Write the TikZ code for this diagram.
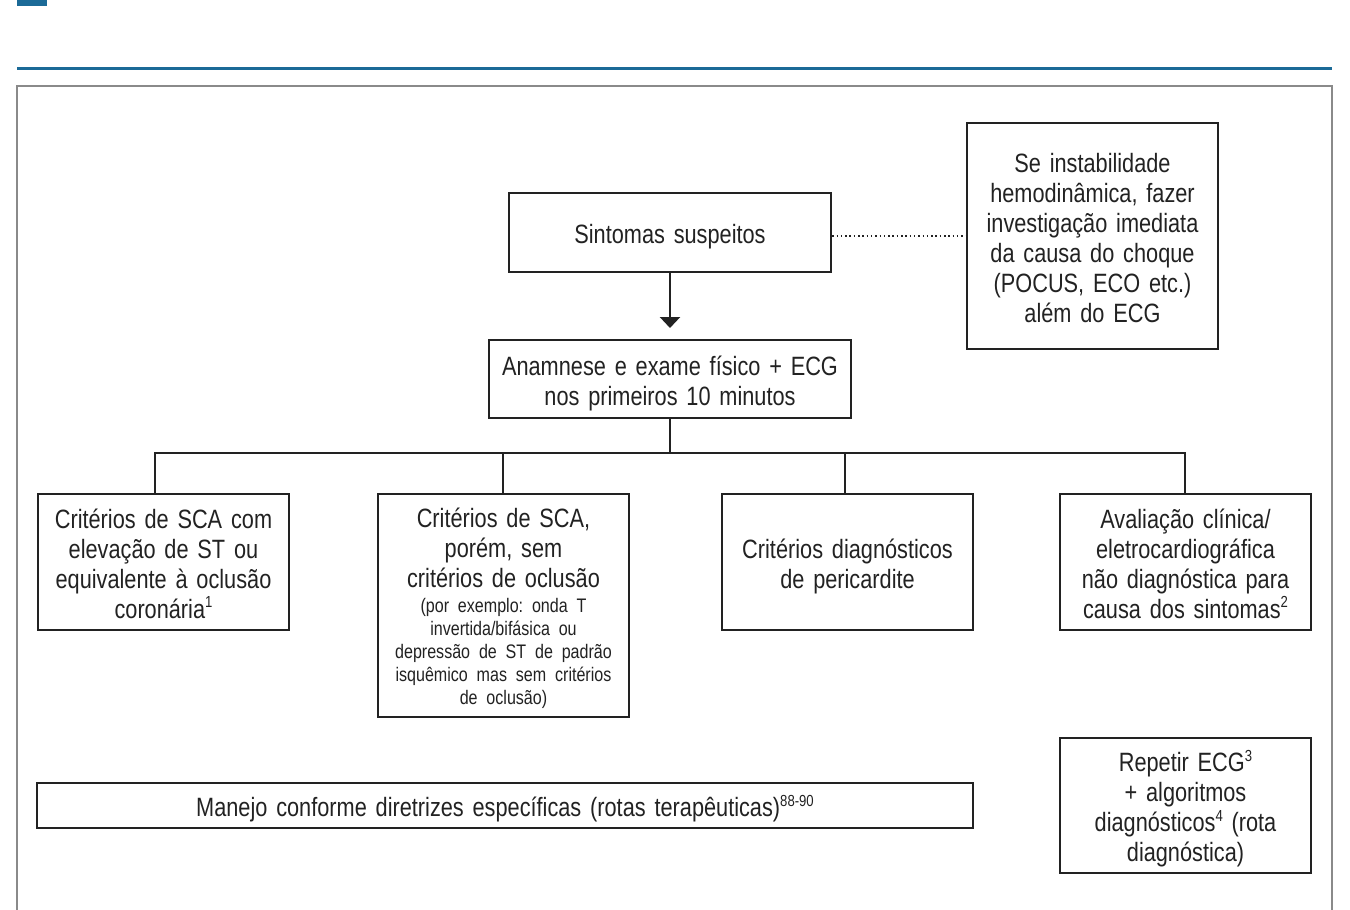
\documentclass[tikz,border=0pt]{standalone}
\usepackage{fontspec}
\setmainfont{Liberation Sans}[FakeStretch=0.82, WordSpace=0.82]
\usetikzlibrary{arrows.meta}
\definecolor{blu}{HTML}{1B6A97}
\definecolor{frm}{HTML}{8A8A8A}
\definecolor{ink}{HTML}{222222}
\newcommand\bigf{\fontsize{26.5}{30}\selectfont}
\newcommand\smallf{\fontsize{19.6}{23}\selectfont}
\newcommand\supr[1]{\raisebox{0.75ex}{\fontsize{16}{16}\selectfont #1}}
\frenchspacing
\tikzset{
  box/.style={draw=ink, line width=2.4pt, inner sep=0pt, align=center, text=ink,
    font=\bigf\frenchspacing,
    execute at begin node={\rule{0pt}{28pt}},
    execute at end node={\rule[-6pt]{0pt}{6pt}}},
  conn/.style={draw=ink, line width=2.4pt},
  dotconn/.style={draw=ink, line width=1.5pt, dash pattern=on 1.5pt off 2.8pt},
}
\begin{document}
\begin{tikzpicture}[x=1pt,y=-1pt]
\useasboundingbox (0,0) rectangle (1350,910);
\fill[white] (0,0) rectangle (1350,910);
\fill[blu] (17,0) rectangle (47,6);
\draw[blu, line width=3pt] (17,68.5) -- (1332,68.5);
\draw[frm, line width=1.5pt] (17,915) -- (17,86) -- (1332,86) -- (1332,915);

\node[box, minimum width=322pt, minimum height=79pt, text width=300pt] (S) at (670,232.5) {Sintomas suspeitos};
\node[box, minimum width=251pt, minimum height=226pt, text width=235pt] (I) at (1092.5,236)
  {Se instabilidade\\hemodinâmica, fazer\\investigação imediata\\da causa do choque\\(POCUS, ECO etc.)\\além do ECG};
\node[box, minimum width=362pt, minimum height=78pt, text width=345pt] (A) at (670,379)
  {Anamnese e exame físico + ECG\\nos primeiros 10 minutos};
\node[box, minimum width=251pt, minimum height=136pt, text width=240pt] (B1) at (163.5,562)
  {Critérios de SCA com\\elevação de ST ou\\equivalente à oclusão\\coronária\supr{1}};
\node[box, minimum width=251pt, minimum height=223pt, text width=240pt] (B2) at (503.5,605.5)
  {Critérios de SCA,\\porém, sem\\critérios de oclusão\\[-5pt]
   {\smallf\begin{tabular}[t]{@{}c@{}}(por exemplo: onda T\\invertida/bifásica ou\\depressão de ST de padrão\\isquêmico mas sem critérios\\de oclusão)\end{tabular}}};
\node[box, minimum width=251pt, minimum height=136pt, text width=240pt] (B3) at (847.5,562)
  {Critérios diagnósticos\\de pericardite};
\node[box, minimum width=251pt, minimum height=136pt, text width=240pt] (B4) at (1185.5,562)
  {Avaliação clínica/\\eletrocardiográfica\\não diagnóstica para\\causa dos sintomas\supr{2}};
\node[box, minimum width=936pt, minimum height=45pt, text width=900pt] (M) at (505,805.5)
  {Manejo conforme diretrizes específicas (rotas terapêuticas)\supr{88-90}};
\node[box, minimum width=251pt, minimum height=135pt, text width=240pt] (R) at (1185.5,805.5)
  {Repetir ECG\supr{3}\\+ algoritmos\\diagnósticos\supr{4} (rota\\diagnóstica)};

\coordinate (tip) at (670,328);
\coordinate (bus) at (670,453);
\coordinate (busL) at (155,453);
\coordinate (busR) at (1185,453);
\coordinate (b2) at (503,453);
\coordinate (b3) at (845,453);

\draw[dotconn] (S.east |- I.west) -- (I.west);
\draw[conn, -{Triangle[width=20pt,length=11pt]}] (S.south) -- (tip);
\draw[conn] (A.south) -- (bus);
\draw[conn] (busL |- B1.north) -- (busL) -- (busR) -- (busR |- B4.north);
\draw[conn] (b2) -- (b2 |- B2.north);
\draw[conn] (b3) -- (b3 |- B3.north);
\end{tikzpicture}
\end{document}
